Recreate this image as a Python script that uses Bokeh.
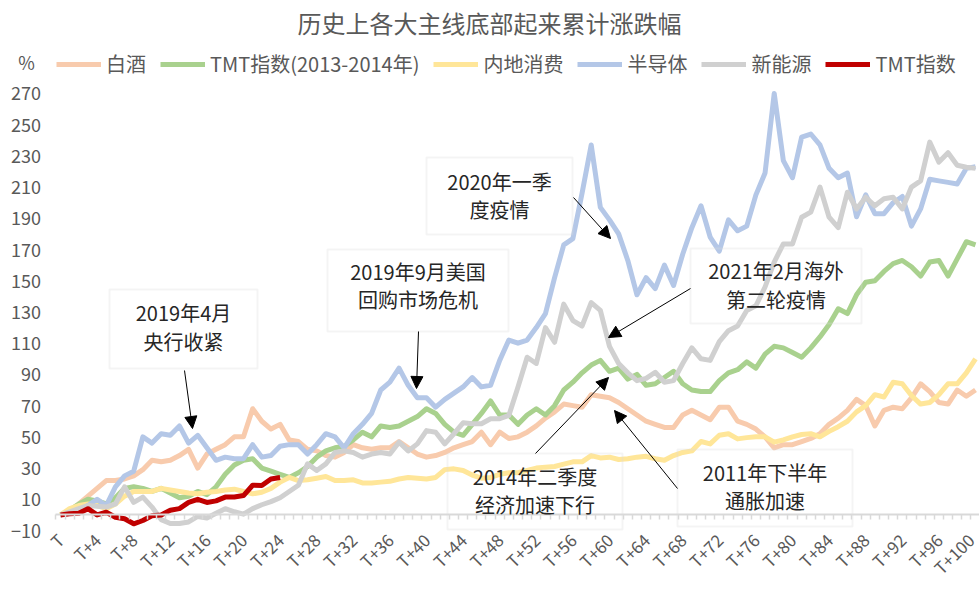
import math
from bokeh.plotting import figure
from bokeh.models import (Range1d, FixedTicker, LinearAxis, Legend, LegendItem, Label,
                          BoxAnnotation, Arrow, NormalHead)
from bokeh.embed import file_html
from bokeh.resources import INLINE

# ---------------- data ----------------
periods = list(range(101))                      # T, T+1, ..., T+100
tick_positions = list(range(0, 101, 4))
tick_labels = ["T"] + ["T+%d" % i for i in range(4, 101, 4)]

baijiu = [0, 3, 7, 12, 17, 22, 22, 23, 25, 29,
          35, 34, 35, 38, 42, 30, 39, 42, 45, 50,
          50, 68, 60, 55, 58, 48, 47, 42, 41, 38,
          37, 40, 45, 43, 42, 43, 43, 47, 43, 39,
          37, 38, 40, 43, 45, 47, 53, 45, 53, 49,
          50, 53, 57, 62, 66, 71, 70, 69, 77, 76,
          75, 72, 68, 64, 60, 58, 56, 56, 64, 67,
          64, 61, 69, 69, 60, 58, 55, 50, 43, 45,
          45, 47, 49, 52, 58, 62, 67, 74, 70, 57,
          67, 69, 68, 75, 84, 79, 72, 71, 80, 76, 80]

tmt_1314 = [0, 3, 7, 10, 9, 7, 11, 17, 18, 17,
            15, 17, 14, 11, 12, 15, 13, 18, 26, 32,
            35, 36, 30, 28, 26, 24, 27, 31, 37, 41,
            43, 44, 48, 53, 50, 57, 56, 57, 60, 63,
            68, 65, 58, 53, 51, 58, 65, 73, 64, 64,
            58, 64, 68, 64, 70, 80, 85, 91, 96, 99,
            92, 94, 87, 90, 83, 84, 88, 92, 84, 80,
            79, 79, 86, 91, 93, 98, 94, 103, 108, 107,
            104, 101, 107, 114, 122, 132, 129, 141, 149, 150,
            156, 161, 163, 159, 153, 162, 163, 153, 164, 175, 173]

consumer = [0, 4, 6, 7, 6, 4, 7, 12, 15, 15,
            15, 17, 16, 15, 14, 13.5, 14.5, 15, 16, 16.5,
            15, 13.5, 14.5, 17, 21, 24, 22, 22.5, 23.5, 24.6,
            22, 22, 22.5, 20.5, 20.5, 21, 21.5, 23, 24, 23.5,
            23, 24, 29, 29.5, 28.5, 25.5, 23.5, 24, 26, 27,
            27, 28.5, 30, 30.6, 31, 32.5, 34, 34, 38, 36.5,
            37, 35.5, 36, 37, 37.5, 36, 35, 38, 40, 41,
            47, 45.5, 51, 52, 48.7, 49.5, 50, 50, 46.6, 48,
            50, 51.5, 52, 50, 53.5, 56.5, 60, 66, 70, 77,
            75.5, 85, 84, 76.5, 71, 72, 77, 84, 84, 91, 100]

semiconductor = [0, 1, 3, 6, 10, 6, 18, 25, 28, 50,
                 46, 52, 51, 57, 46, 51, 43, 35, 37, 36,
                 36, 45, 37, 38, 44, 45, 45, 39, 45, 52,
                 50, 43, 52, 58, 65, 80, 85, 94, 83, 75,
                 75, 69, 74, 78, 82, 88, 82, 83, 99, 112,
                 110, 112, 120, 129, 152, 173, 177, 206, 237, 197,
                 189, 180, 163, 141, 152, 145, 160, 147, 167, 184,
                 198, 178, 169, 189, 182, 185, 205, 219, 270, 227,
                 216, 242, 244, 237, 222, 216, 219, 191, 205, 193,
                 193, 200, 204, 185, 196, 215, 214, 213, 212, 222, 223]

new_energy = [0, 2, 4, 6, 5.5, 5, 7, 18, 8, 11.4,
              5, -3, -5.5, -5.5, -4.5, -1, -2, 1, 4, 2,
              0.5, 4, 6.5, 8.5, 11, 15, 19, 32.7, 28.5, 32.7,
              40, 41, 40, 37, 39, 40, 39, 46.6, 41, 45.5,
              54, 53, 45.5, 52, 59, 58.4, 58.4, 61.6, 61.6, 63.7,
              82, 101, 97, 120, 110.6, 135, 124.5, 121, 136, 131,
              108, 97, 91, 86, 87.5, 91.4, 85, 86, 97, 107,
              100, 99, 111, 118, 121, 131, 134, 146, 162, 173.6,
              173.6, 190.7, 194, 210, 190.7, 184, 206.7, 196, 203.5, 198,
              202.5, 203.5, 196, 210, 214, 238.8, 226, 232, 224, 222.7, 222]

tmt_now = [0, 0.7, 1, 4, 0, 1.7, -1.5, -2.5, -5.7, -3.6,
           -0.5, 0, 3, 4, 8, 10, 8, 9, 11.4, 11.5,
           12.4, 19, 18.8, 23, 24]

series_names = ["白酒", "TMT指数(2013-2014年)", "内地消费", "半导体", "新能源", "TMT指数"]
series_values = [baijiu, tmt_1314, consumer, semiconductor, new_energy, tmt_now]
series_colors = ["#F8CBAD", "#A9D18E", "#FFE699", "#B4C7E7", "#D0D0D0", "#C00000"]

y_ticks = list(range(-10, 271, 20))
y_min, y_max = -10, 270

# ---------------- layout constants (pixels) ----------------
W, H = 979, 589
PX_X0, PX_PER_X = 60.0, 9.15          # pixel of T, pixels per period
PX_Y0, PX_PER_Y = 514.4, 1.561        # pixel of 0 %, pixels per percent

FONT = "Noto Sans CJK SC"
GREY_TXT = "#595959"

x_lo = (0 - PX_X0) / PX_PER_X
x_hi = (W - PX_X0) / PX_PER_X
y_hi = (PX_Y0 - 0) / PX_PER_Y
y_lo = (PX_Y0 - H) / PX_PER_Y

p = figure(width=W, height=H, output_backend="svg", toolbar_location=None,
           x_range=Range1d(x_lo, x_hi), y_range=Range1d(y_lo, y_hi),
           x_axis_type=None, y_axis_type=None,
           min_border_left=0, min_border_right=0, min_border_top=0, min_border_bottom=0)
p.outline_line_color = None
p.grid.visible = False
p.background_fill_color = "white"

# y axis drawn at the left edge of the plot area
y_axis = LinearAxis(fixed_location=-0.5, bounds=(y_min, y_max), ticker=FixedTicker(ticks=y_ticks),
                    axis_line_color=None, major_tick_line_color=None, minor_tick_line_color=None,
                    major_tick_out=0, major_tick_in=0, major_label_standoff=15,
                    major_label_text_font=FONT, major_label_text_font_size="18px",
                    major_label_text_color=GREY_TXT)
p.add_layout(y_axis, "left")

# category labels at the bottom of the plot area
x_axis = LinearAxis(fixed_location=y_min, bounds=(-0.5, 100.5), ticker=FixedTicker(ticks=tick_positions),
                    major_label_overrides={pos: lab for pos, lab in zip(tick_positions, tick_labels)},
                    axis_line_color=None, major_tick_line_color=None, minor_tick_line_color=None,
                    major_tick_out=0, major_tick_in=0, major_label_standoff=6,
                    major_label_orientation=math.pi / 4,
                    major_label_text_font=FONT, major_label_text_font_size="17px",
                    major_label_text_color=GREY_TXT)
p.add_layout(x_axis, "below")

# horizontal axis line crossing at 0 %, tick marks between categories
zero_axis = LinearAxis(fixed_location=0, bounds=(-0.5, 100.5),
                       ticker=FixedTicker(ticks=[], minor_ticks=[i - 0.5 for i in range(102)]),
                       axis_line_color="#D9D9D9", axis_line_width=2,
                       major_tick_line_color=None, minor_tick_line_color="#D9D9D9",
                       minor_tick_line_width=1.5, minor_tick_out=5, minor_tick_in=0)
p.add_layout(zero_axis, "below")

# series
renderers = []
for name, vals, col in zip(series_names, series_values, series_colors):
    r = p.line(periods[:len(vals)], vals, line_color=col, line_width=5, line_join="round")
    renderers.append(r)

legend = Legend(items=[LegendItem(label=n, renderers=[r]) for n, r in zip(series_names, renderers)],
                orientation="horizontal", location=(56, H - 78),
                label_text_font=FONT, label_text_font_size="20px", label_text_color=GREY_TXT,
                glyph_width=45, glyph_height=20, label_standoff=5, spacing=14,
                padding=0, margin=0, border_line_color=None, background_fill_alpha=0)
p.add_layout(legend)

# ---------------- pixel-placed annotations ----------------
def sx(px):
    return (px - PX_X0) / PX_PER_X

def sy(py):
    return (PX_Y0 - py) / PX_PER_Y

p.add_layout(Label(x=sx(489), y=sy(22), text="历史上各大主线底部起来累计涨跌幅",
                   text_font=FONT, text_font_size="24px", text_color=GREY_TXT,
                   text_align="center", text_baseline="middle"))
p.add_layout(Label(x=sx(26), y=sy(61), text="%", text_font=FONT, text_font_size="18px",
                   text_color=GREY_TXT, text_align="center", text_baseline="middle"))

notes = [
    ((109, 289, 257, 368), ["2019年4月", "央行收紧"], (312, 341), ((184, 370), (192, 428))),
    ((327, 249, 508, 331), ["2019年9月美国", "回购市场危机"], (271, 299), ((418, 331), (416, 388))),
    ((426, 157, 572, 234), ["2020年一季", "度疫情"], (181, 209), ((573, 197), (610, 238))),
    ((690, 248, 861, 323), ["2021年2月海外", "第二轮疫情"], (270, 299), ((690, 288), (608, 337))),
    ((447, 453, 622, 529), ["2014年二季度", "经济加速下行"], (476, 504), ((535, 453), (608, 377))),
    ((677, 449, 852, 526), ["2011年下半年", "通胀加速"], (472, 500), ((677, 488), (614, 410))),
]
for (l, t, rgt, b), lines, ys, ((x0, y0), (x1, y1)) in notes:
    p.add_layout(BoxAnnotation(left=sx(l), right=sx(rgt), top=sy(t), bottom=sy(b),
                               fill_alpha=0, line_color="#D9D9D9", line_width=2))
    cx = (l + rgt) / 2
    for txt, yy in zip(lines, ys):
        p.add_layout(Label(x=sx(cx), y=sy(yy), text=txt, text_font=FONT, text_font_size="20px",
                           text_color="#262626", text_align="center", text_baseline="middle"))
    p.add_layout(Arrow(end=NormalHead(size=12, fill_color="black", line_color="black", line_width=1),
                       x_start=sx(x0), y_start=sy(y0), x_end=sx(x1), y_end=sy(y1),
                       line_color="black", line_width=1))

open("out.html", "w").write(file_html(p, INLINE))
